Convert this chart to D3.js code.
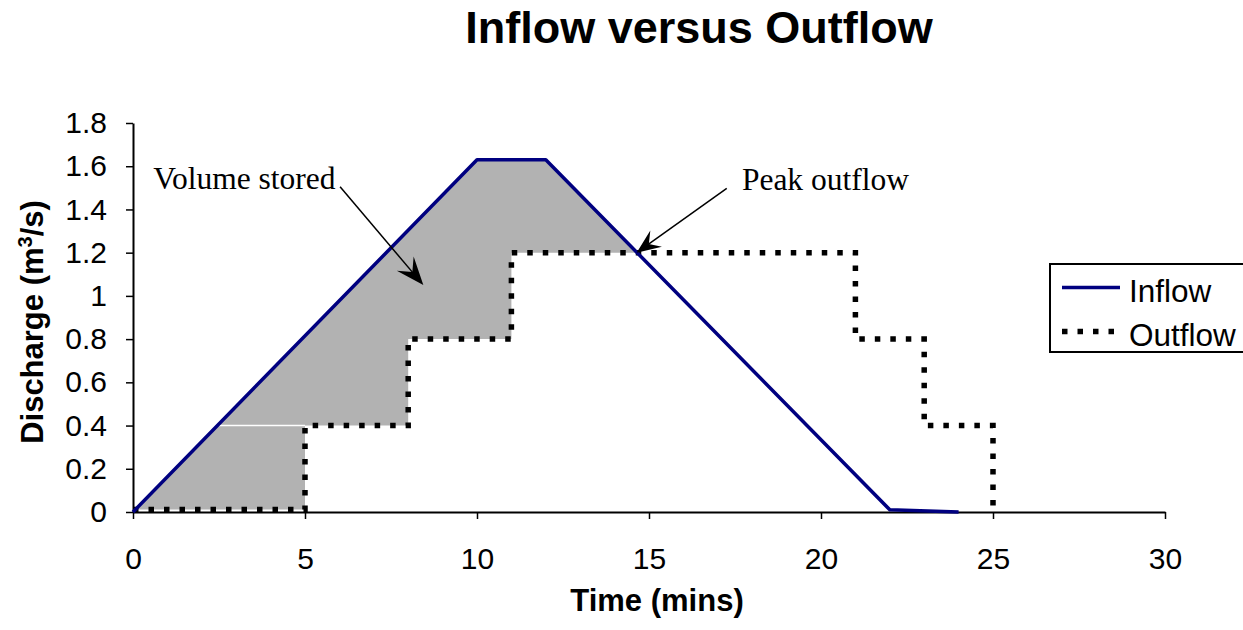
<!DOCTYPE html>
<html>
<head>
<meta charset="utf-8">
<script src="https://cdn.jsdelivr.net/npm/d3@7"></script>
<style>
  body { margin: 0; background: #fff; }
  svg { display: block; }
</style>
</head>
<body>
<div id="chart"></div>
<script>
// values
var inflowTime = [0, 10, 12, 22, 24];
var inflowQ = [0, 1.63, 1.63, 0.01, 0];

var outflowTime = [0, 5, 8, 11, 21, 23, 25];
var outflowQ = [0.012, 0.4, 0.8, 1.2, 0.8, 0.4, 0];

var xTicks = [0, 5, 10, 15, 20, 25, 30];
var yTicks = [0, 0.2, 0.4, 0.6, 0.8, 1, 1.2, 1.4, 1.6, 1.8];
var yTickLabels = ["0", "0.2", "0.4", "0.6", "0.8", "1", "1.2", "1.4", "1.6", "1.8"];

var seriesNames = ["Inflow", "Outflow"];

// annotations, in data units (time, discharge)
var noteLabels = ["Volume stored", "Peak outflow"];
var noteTextAt = [[0.59, 1.493], [17.7, 1.49]];
var noteFrom = [[6.02, 1.505], [17.26, 1.498]];
var noteTo = [[8.44, 1.05], [14.64, 1.2]];

var W = 1243, H = 630;
var margin = {top: 123, right: 78, bottom: 118, left: 133};

var svg = d3.select("#chart")
  .append("svg")
  .attr("width", W)
  .attr("height", H);

var x = d3.scaleLinear()
  .domain([0, 30])
  .range([margin.left, W - margin.right]);

var y = d3.scaleLinear()
  .domain([0, 1.8])
  .range([H - margin.bottom, margin.top]);

var inflow = inflowTime.map(function(t, i){ return [t, inflowQ[i]]; });
var outflow = outflowTime.map(function(t, i){ return [t, outflowQ[i]]; });

// where the falling inflow meets the top outflow step
var peakQ = d3.max(outflowQ);
var tCross = 0;
for (var i = 2; i < inflow.length; i++){
  var a = inflow[i-1], b = inflow[i];
  if (a[1] >= peakQ && b[1] <= peakQ){
    tCross = a[0] + (a[1] - peakQ) / (a[1] - b[1]) * (b[0] - a[0]);
    break;
  }
}

// step vertices of outflow
var stepPts = [];
outflow.forEach(function(p, i){
  if (i > 0) stepPts.push([p[0], outflow[i-1][1]]);
  stepPts.push(p);
});

// shaded stored volume: inflow above, outflow below, up to the crossing
var shade = inflow.filter(function(p){ return p[0] < tCross; });
shade.push([tCross, peakQ]);
var lower = stepPts.filter(function(p){ return p[0] <= tCross; });
shade = shade.concat(lower.reverse());

var line = d3.line()
  .x(function(d){ return x(d[0]); })
  .y(function(d){ return y(d[1]); });

svg.append("path")
  .attr("d", line(shade) + "Z")
  .attr("fill", "#b2b2b2");

// thin white seam where the shaded polygons join
var q1 = outflowQ[1];
var tSeam = inflow[0][0] + q1 / inflow[1][1] * (inflow[1][0] - inflow[0][0]);
svg.append("line")
  .attr("x1", x(tSeam)).attr("x2", x(outflowTime[1]))
  .attr("y1", y(q1)).attr("y2", y(q1))
  .attr("stroke", "#fff")
  .attr("stroke-width", 1.5);

// axes
var yAxis = svg.append("g")
  .attr("transform", "translate(" + margin.left + ",0)")
  .call(d3.axisLeft(y).tickValues(yTicks)
    .tickFormat(function(d, i){ return yTickLabels[i]; })
    .tickSize(7).tickSizeOuter(0).tickPadding(19));

var xAxis = svg.append("g")
  .attr("transform", "translate(0," + y(0) + ")")
  .call(d3.axisBottom(x).tickValues(xTicks)
    .tickSize(7).tickSizeOuter(0).tickPadding(29));

[xAxis, yAxis].forEach(function(g){
  g.select(".domain").attr("stroke", "#000").attr("stroke-width", 2);
  g.selectAll(".tick line").attr("stroke", "#000").attr("stroke-width", 1.5);
  g.selectAll(".tick text")
    .attr("fill", "#000")
    .style("font-family", "Arial, 'Liberation Sans', sans-serif")
    .style("font-size", "30px");
});

// outflow (dotted step)
svg.append("path")
  .datum(outflow)
  .attr("d", line.curve(d3.curveStepAfter))
  .attr("fill", "none")
  .attr("stroke", "#000")
  .attr("stroke-width", 5.5)
  .attr("stroke-dasharray", "5.5,10");
line.curve(d3.curveLinear);

// inflow
svg.append("path")
  .datum(inflow)
  .attr("d", line)
  .attr("fill", "none")
  .attr("stroke", "#000080")
  .attr("stroke-width", 3.5)
  .attr("stroke-linejoin", "round");

// annotations
var noteFont = "'Times New Roman', 'Liberation Serif', serif";
noteLabels.forEach(function(label, i){
  svg.append("text")
    .attr("x", x(noteTextAt[i][0]))
    .attr("y", y(noteTextAt[i][1]))
    .style("font-family", noteFont)
    .style("font-size", "31.5px")
    .attr("fill", "#000")
    .text(label);

  var x0 = x(noteFrom[i][0]), y0 = y(noteFrom[i][1]);
  var x1 = x(noteTo[i][0]), y1 = y(noteTo[i][1]);
  var ang = Math.atan2(y1 - y0, x1 - x0) * 180 / Math.PI;
  var len = Math.sqrt((x1-x0)*(x1-x0) + (y1-y0)*(y1-y0));
  var headL = i == 0 ? 28 : 24, headW = i == 0 ? 11 : 10, notch = i == 0 ? 17 : 15;

  var g = svg.append("g")
    .attr("transform", "translate(" + x0 + "," + y0 + ") rotate(" + ang + ")");
  g.append("line")
    .attr("x1", 0).attr("y1", 0)
    .attr("x2", len - notch + 2).attr("y2", 0)
    .attr("stroke", "#000")
    .attr("stroke-width", 1.5);
  g.append("path")
    .attr("d", "M" + len + ",0L" + (len - headL) + "," + (-headW) +
               "L" + (len - notch) + ",0L" + (len - headL) + "," + headW + "Z")
    .attr("fill", "#000");
});

// title
svg.append("text")
  .attr("x", 699)
  .attr("y", 43)
  .attr("text-anchor", "middle")
  .style("font-family", "Arial, 'Liberation Sans', sans-serif")
  .style("font-weight", "bold")
  .style("font-size", "45px")
  .text("Inflow versus Outflow");

// axis titles
svg.append("text")
  .attr("x", 657)
  .attr("y", 611)
  .attr("text-anchor", "middle")
  .style("font-family", "Arial, 'Liberation Sans', sans-serif")
  .style("font-weight", "bold")
  .style("font-size", "31px")
  .text("Time (mins)");

var yTitle = svg.append("text")
  .attr("transform", "translate(43,322) rotate(-90)")
  .attr("text-anchor", "middle")
  .style("font-family", "Arial, 'Liberation Sans', sans-serif")
  .style("font-weight", "bold")
  .style("font-size", "31px");
yTitle.append("tspan").text("Discharge (m");
yTitle.append("tspan").attr("dy", -11).style("font-size", "20px").text("3");
yTitle.append("tspan").attr("dy", 11).text("/s)");

// legend
var legend = svg.append("g").attr("transform", "translate(1050,264)");
legend.append("rect")
  .attr("x", 0).attr("y", 0)
  .attr("width", 210).attr("height", 88)
  .attr("fill", "#fff")
  .attr("stroke", "#000")
  .attr("stroke-width", 2);

seriesNames.forEach(function(name, i){
  var ly = 23.5 + i * 44;
  legend.append("line")
    .attr("x1", 12).attr("x2", 70)
    .attr("y1", ly).attr("y2", ly)
    .attr("stroke", i == 0 ? "#000080" : "#000")
    .attr("stroke-width", i == 0 ? 3.5 : 5.5)
    .attr("stroke-dasharray", i == 0 ? null : "5.5,10");
  legend.append("text")
    .attr("x", 79)
    .attr("y", ly + 14)
    .style("font-family", "Arial, 'Liberation Sans', sans-serif")
    .style("font-size", "31.5px")
    .text(name);
});
</script>
</body>
</html>
